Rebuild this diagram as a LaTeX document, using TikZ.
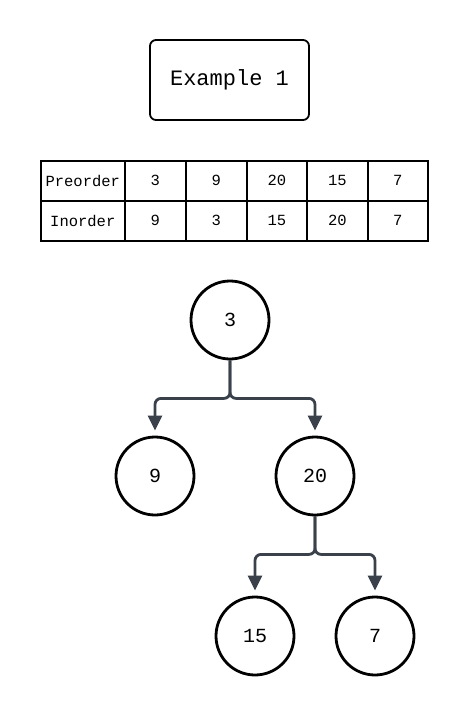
\documentclass[tikz,border=0pt]{standalone}
\usepackage{fontspec}
\setmonofont{Liberation Mono}
\usetikzlibrary{arrows.meta}
\definecolor{conncol}{HTML}{3A414A}
\begin{document}
\begin{tikzpicture}[x=1pt,y=-1pt,
  titlebox/.style={draw=black,line width=1.8pt,rounded corners=6pt,minimum width=159pt,minimum height=80pt,inner sep=0pt,font=\ttfamily\fontsize{22}{25}\selectfont},
  cell/.style={draw=black,line width=1.6pt,minimum height=40pt,inner sep=0pt,anchor=north west,font=\ttfamily\fontsize{15.5}{18}\selectfont},
  treenode/.style={circle,draw=black,line width=2.8pt,minimum size=78pt,inner sep=0pt,font=\ttfamily\fontsize{20}{23}\selectfont},
  conn/.style={draw=conncol,line width=2.8pt,rounded corners=6pt,-{Triangle[length=15pt,width=14pt]},shorten >=5pt}]
\useasboundingbox (0,0) rectangle (468,715);
\node[titlebox] (title) at (229.5,80) {Example 1};
% table row 1
\node[cell,minimum width=84pt] (p0) at (40,160) {Preorder};
\node[cell,minimum width=61pt] (p1) at (124,160) {3};
\node[cell,minimum width=61pt] (p2) at (185,160) {9};
\node[cell,minimum width=60pt] (p3) at (246,160) {20};
\node[cell,minimum width=61pt] (p4) at (306,160) {15};
\node[cell,minimum width=60pt] (p5) at (367,160) {7};
% table row 2
\node[cell,minimum width=84pt] (i0) at (40,200) {Inorder};
\node[cell,minimum width=61pt] (i1) at (124,200) {9};
\node[cell,minimum width=61pt] (i2) at (185,200) {3};
\node[cell,minimum width=60pt] (i3) at (246,200) {15};
\node[cell,minimum width=61pt] (i4) at (306,200) {20};
\node[cell,minimum width=60pt] (i5) at (367,200) {7};
% tree
\node[treenode] (n3) at (230,320) {3};
\node[treenode] (n9) at (155,476) {9};
\node[treenode] (n20) at (315,476) {20};
\node[treenode] (n15) at (255,636) {15};
\node[treenode] (n7) at (375,636) {7};
\draw[conn] (n3.south) -- ++(0,38) -| (n9.north);
\draw[conn] (n3.south) -- ++(0,38) -| (n20.north);
\draw[conn] (n20.south) -- ++(0,38) -| (n15.north);
\draw[conn] (n20.south) -- ++(0,38) -| (n7.north);
\end{tikzpicture}
\end{document}
